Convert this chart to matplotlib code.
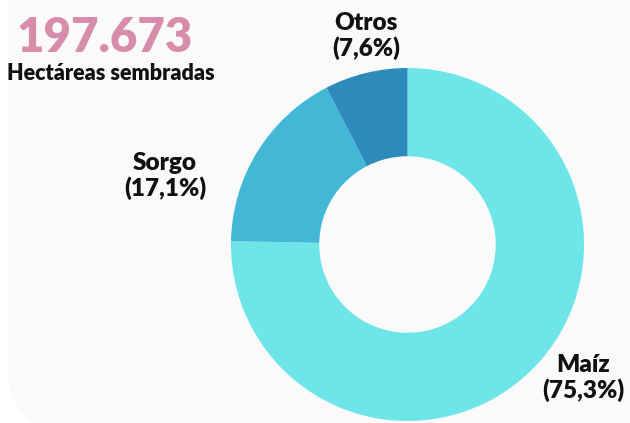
import matplotlib.pyplot as plt
from matplotlib.patches import FancyBboxPatch

# Data
cultivos = ['Maíz', 'Sorgo', 'Otros']
porcentajes = [75.3, 17.1, 7.6]
colores = ['#6de5e9', '#42b8d6', '#2d8bbb']
total_hectareas = '197.673'

plt.rcParams['font.family'] = ['Lato', 'DejaVu Sans']

W, H = 630, 423
fig = plt.figure(figsize=(6.3, 4.23), dpi=100)
fig.patch.set_facecolor('white')

# background panel in pixel coordinates (y down)
bg = fig.add_axes([0, 0, 1, 1], zorder=-5)
bg.set_xlim(0, W)
bg.set_ylim(H, 0)
bg.axis('off')
bg.add_patch(FancyBboxPatch((8, -100), 700, H + 112,
                            boxstyle='round,pad=0,rounding_size=70',
                            facecolor='#fafafa', edgecolor='none'))

ax = fig.add_axes([231 / W, 2 / H, 353 / W, 353 / H])
ax.set_facecolor('none')
ax.pie(porcentajes, colors=colores, startangle=90, counterclock=False,
       radius=1, wedgeprops=dict(width=0.5, edgecolor='none'))
ax.set_xlim(-1, 1)
ax.set_ylim(-1, 1)
ax.set_aspect('equal')
ax.axis('off')

# labels (pixel positions of label centres)
label_pos = [(583, 378), (165, 176), (366, 36)]
for nombre, pct, (px, py) in zip(cultivos, porcentajes, label_pos):
    texto = f"{nombre}\n({pct:.1f}%)".replace('.', ',')
    bg.text(px, py, texto, ha='center', va='center',
            fontsize=17.5, fontweight='heavy', color='#111111', linespacing=1.1)

bg.text(17, 38, total_hectareas, ha='left', va='center',
        fontsize=34, fontweight='heavy', color='#d78da9')
bg.text(7, 73, 'Hectáreas sembradas', ha='left', va='center',
        fontsize=15.5, fontweight='heavy', color='#111111')

fig.savefig('out.png', dpi=100)
